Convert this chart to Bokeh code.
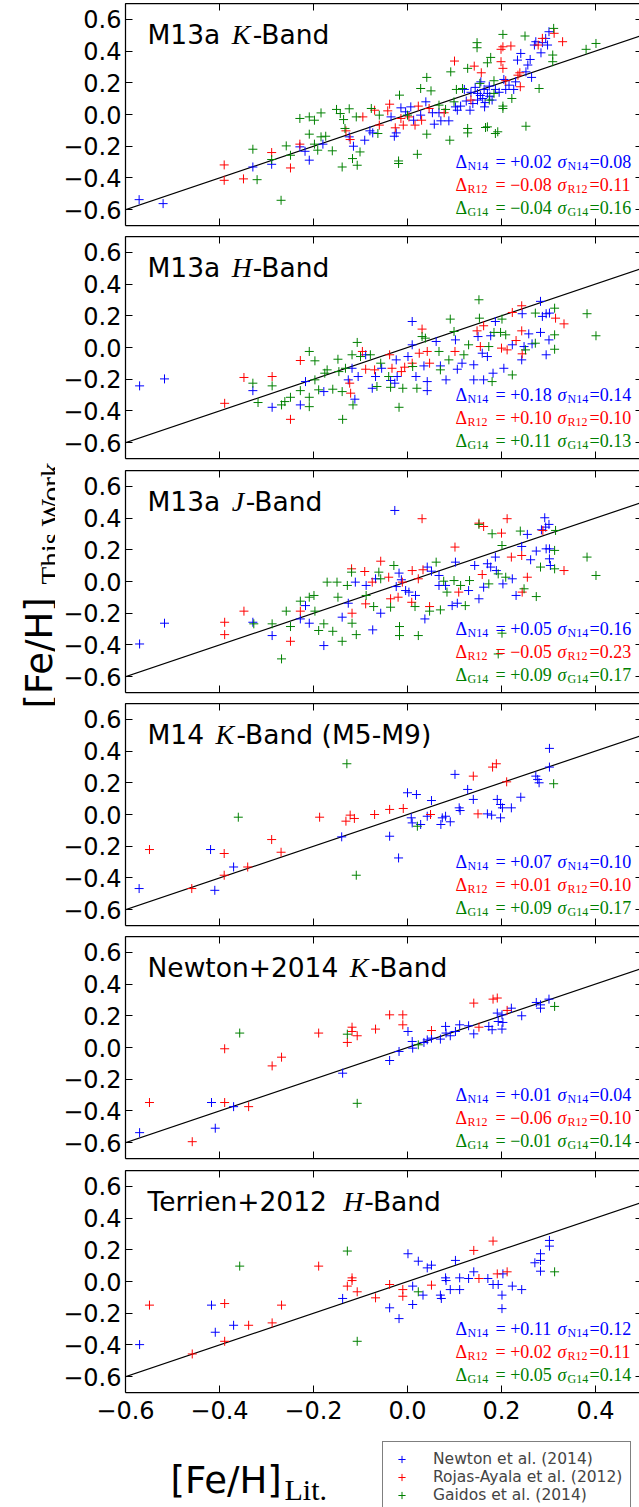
import math
from bokeh.plotting import figure
from bokeh.models import (Range1d, FixedTicker, LinearAxis, Legend, LegendItem, Label,
                          CustomJSTickFormatter)
from bokeh.layouts import row, column
from bokeh.embed import file_html
from bokeh.resources import INLINE
from bokeh.core.properties import value

# ---------------- data ----------------
series_labels = ["Newton et al. (2014)", "Rojas-Ayala et al. (2012)", "Gaidos et al. (2014)"]
series_subs = ["N14", "R12", "G14"]

title_pre = ["M13a ", "M13a ", "M13a ", "M14 ", "Newton+2014 ", "Terrien+2012 "]
title_band = ["K", "H", "J", "K", "K", "H"]
title_post = ["-Band", "-Band", "-Band", "-Band (M5-M9)", "-Band", "-Band"]

stat_delta = [["+0.02", "\u22120.08", "\u22120.04"],
              ["+0.18", "+0.10", "+0.11"],
              ["+0.05", "\u22120.05", "+0.09"],
              ["+0.07", "+0.01", "+0.09"],
              ["+0.01", "\u22120.06", "\u22120.01"],
              ["+0.11", "+0.02", "+0.05"]]
stat_sigma = [["0.08", "0.11", "0.16"],
              ["0.14", "0.10", "0.13"],
              ["0.16", "0.23", "0.17"],
              ["0.10", "0.10", "0.17"],
              ["0.04", "0.10", "0.14"],
              ["0.12", "0.11", "0.14"]]

x_ticks = [-0.6, -0.4, -0.2, 0.0, 0.2, 0.4]
y_ticks = [-0.6, -0.4, -0.2, 0.0, 0.2, 0.4, 0.6]
one_to_one = [-0.7, 0.7]

# Panel 1: M13a K-band
p1_n14 = [(-0.571,-0.537),(-0.520,-0.562),(-0.329,-0.331),(-0.289,-0.314),(-0.229,-0.204),
          (-0.218,-0.232),(-0.209,-0.288),(-0.180,-0.187),(-0.124,-0.141),(-0.115,-0.200),
          (-0.091,-0.162),(-0.080,-0.103),(-0.074,-0.116),(-0.035,-0.015),(-0.028,-0.137),
          (-0.024,-0.116),(-0.014,0.042),(-0.004,0.017),(0.007,0.048),(0.013,-0.036),
          (0.028,-0.004),(0.039,0.080),(0.053,0.011),(0.057,-0.061),(0.067,0.011),
          (0.071,-0.040),(0.088,-0.040),(0.102,0.048),(0.106,0.027),(0.113,0.053),
          (0.121,0.158),(0.133,0.027),(0.144,0.171),(0.149,0.133),(0.149,0.091),
          (0.156,0.206),(0.160,0.101),(0.163,0.158),(0.164,0.048),(0.170,0.133),
          (0.174,0.179),(0.180,0.091),(0.187,0.158),(0.205,0.221),(0.209,0.158),
          (0.216,0.185),(0.226,0.158),(0.230,0.206),(0.234,0.343),(0.241,0.385),
          (0.252,0.269),(0.256,0.312),(0.261,0.347),(0.264,0.234),(0.270,0.438),
          (0.273,0.459),(0.284,0.389),(0.287,0.453),(0.294,0.480),(0.298,0.438),
          (0.301,0.522),(0.139,0.069),(0.135,0.140),(0.155,0.120),(0.175,0.115),
          (0.195,0.140),(0.125,0.085),(0.165,0.075)]
p1_r12 = [(-0.390,-0.318),(-0.390,-0.415),(-0.349,-0.406),(-0.289,-0.240),(-0.249,-0.337),
          (-0.229,-0.187),(-0.131,-0.103),(-0.122,-0.158),(-0.095,-0.015),(-0.070,0.027),
          (-0.060,-0.067),(-0.038,0.065),(-0.042,0.023),(-0.026,-0.084),(-0.014,-0.025),
          (-0.009,-0.067),(0.003,-0.015),(0.016,-0.067),(0.023,0.053),(0.030,-0.036),
          (0.046,0.038),(0.078,0.011),(0.100,0.337),(0.142,0.305),(0.157,0.263),
          (0.199,0.333),(0.203,0.291),(0.199,0.411),(0.203,0.427),(0.209,0.213),
          (0.220,0.432),(0.235,0.248),(0.239,0.263),(0.240,0.175),(0.278,0.438),
          (0.287,0.480),(0.312,0.512),(0.330,0.459),(0.135,0.091)]
p1_g14 = [(-0.329,-0.219),(-0.320,-0.411),(-0.289,-0.284),(-0.269,-0.541),(-0.258,-0.198),
          (-0.249,-0.257),(-0.229,-0.025),(-0.209,-0.015),(-0.198,-0.036),(-0.209,-0.124),
          (-0.198,-0.187),(-0.191,-0.225),(-0.184,0.010),(-0.184,-0.141),(-0.174,-0.137),
          (-0.160,-0.229),(-0.151,0.032),(-0.143,0.006),(-0.136,-0.032),(-0.133,-0.088),
          (-0.124,0.036),(-0.117,-0.278),(-0.139,-0.331),(-0.107,-0.320),(-0.109,-0.015),
          (-0.101,-0.236),(-0.077,0.038),(-0.060,-0.004),(-0.063,-0.120),(-0.019,-0.293),
          (-0.019,-0.309),(-0.017,0.122),(0.000,-0.004),(0.021,-0.251),(0.041,0.234),
          (0.041,-0.124),(0.028,0.164),(0.050,0.149),(0.067,0.059),(0.081,0.032),
          (0.090,-0.162),(0.092,0.269),(0.099,0.080),(0.104,0.158),(0.117,0.164),
          (0.128,-0.088),(0.128,-0.116),(0.128,0.291),(0.148,0.453),(0.148,0.421),
          (0.154,0.196),(0.166,-0.082),(0.170,0.326),(0.177,0.360),(0.184,0.133),
          (0.174,0.091),(0.192,-0.109),(0.184,0.213),(0.203,0.505),(0.203,0.053),
          (0.203,0.038),(0.222,0.101),(0.250,0.495),(0.252,-0.074),(0.280,0.164),
          (0.311,0.543),(0.309,0.375),(0.309,0.333),(0.380,0.411),(0.401,0.448),
          (0.170,-0.078),(0.187,-0.120)]

# Panel 2: M13a H-band
p2_n14 = [(-0.570,-0.242),(-0.517,-0.198),(-0.329,-0.272),(-0.288,-0.377),(-0.228,-0.362),
          (-0.217,-0.215),(-0.178,-0.278),(-0.126,-0.204),(-0.118,-0.131),(-0.112,-0.326),
          (-0.105,-0.183),(-0.089,-0.046),(-0.075,-0.257),(-0.068,-0.183),(-0.055,-0.131),
          (-0.036,-0.208),(-0.027,-0.225),(-0.024,-0.078),(-0.022,-0.183),(0.001,-0.057),
          (0.010,0.164),(0.010,0.017),(0.018,-0.183),(0.035,-0.116),(0.042,-0.215),
          (0.042,-0.272),(0.061,0.038),(0.070,-0.116),(0.082,-0.204),(0.102,0.048),
          (0.106,-0.137),(0.116,-0.099),(0.141,-0.204),(0.141,-0.109),(0.150,0.069),
          (0.159,-0.036),(0.162,-0.204),(0.170,-0.057),(0.177,0.074),(0.182,-0.162),
          (0.187,0.164),(0.205,-0.131),(0.223,0.017),(0.244,0.213),(0.243,-0.078),
          (0.248,0.006),(0.258,0.086),(0.265,0.023),(0.283,0.291),(0.283,0.095),
          (0.287,0.196),(0.295,0.213),(0.302,0.217),(0.295,-0.046),(0.301,0.048)]
p2_r12 = [(-0.348,-0.189),(-0.389,-0.352),(-0.288,-0.183),(-0.249,-0.453),(-0.228,-0.082),
          (-0.123,-0.225),(-0.121,-0.288),(-0.096,-0.025),(-0.089,-0.137),(-0.070,-0.141),
          (-0.038,-0.046),(-0.033,-0.131),(-0.013,-0.152),(-0.006,-0.124),(0.010,-0.099),
          (0.025,-0.036),(0.031,0.116),(0.042,-0.025),(0.047,-0.099),(0.101,-0.025),
          (0.148,0.105),(0.155,0.006),(0.162,0.137),(0.200,-0.004),(0.212,-0.015),
          (0.223,0.221),(0.231,0.044),(0.243,0.263),(0.243,0.105),(0.244,-0.040),
          (0.315,0.185),(0.333,0.149)]
p2_g14 = [(-0.329,-0.225),(-0.318,-0.347),(-0.288,-0.242),(-0.268,-0.362),(-0.261,-0.341),
          (-0.249,-0.314),(-0.228,-0.272),(-0.209,-0.025),(-0.209,-0.314),(-0.209,-0.373),
          (-0.197,-0.084),(-0.197,-0.204),(-0.189,-0.267),(-0.176,-0.162),(-0.171,-0.141),
          (-0.159,-0.263),(-0.148,-0.074),(-0.146,-0.152),(-0.138,-0.453),(-0.139,-0.278),
          (-0.132,-0.131),(-0.118,-0.046),(-0.116,-0.362),(-0.107,0.032),(-0.100,-0.057),
          (-0.079,-0.046),(-0.065,-0.246),(-0.057,-0.099),(-0.040,-0.183),(-0.036,-0.251),
          (-0.018,-0.377),(-0.010,-0.257),(0.011,-0.120),(0.020,-0.257),(0.031,0.069),
          (0.038,0.059),(0.067,-0.025),(0.070,-0.141),(0.091,0.179),(0.099,0.101),
          (0.088,-0.078),(0.120,-0.046),(0.130,0.017),(0.152,0.301),(0.153,0.185),
          (0.173,0.006),(0.180,-0.215),(0.184,0.095),(0.198,0.095),(0.201,0.179),
          (0.209,0.080),(0.223,-0.173),(0.251,-0.015),(0.272,0.217),(0.272,0.027),
          (0.313,0.248),(0.313,0.080),(0.313,-0.011),(0.382,0.213),(0.401,0.074)]

# Panel 3: M13a J-band
p3_n14 = [(-0.570,-0.394),(-0.517,-0.263),(-0.329,-0.257),(-0.288,-0.341),(-0.228,-0.236),
          (-0.217,-0.152),(-0.209,-0.263),(-0.178,-0.404),(-0.139,-0.225),(-0.126,-0.137),
          (-0.111,-0.004),(-0.088,-0.025),(-0.074,-0.305),(-0.068,0.017),(-0.057,-0.200),
          (-0.027,0.448),(-0.024,-0.032),(-0.018,0.053),(-0.013,0.011),(-0.004,-0.057),
          (0.003,-0.067),(0.017,-0.088),(0.037,-0.236),(0.042,0.091),(0.051,0.065),
          (0.067,0.038),(0.067,-0.025),(0.081,-0.025),(0.095,-0.152),(0.102,0.122),
          (0.106,-0.137),(0.130,-0.057),(0.143,0.101),(0.152,-0.109),(0.162,-0.036),
          (0.170,0.112),(0.177,0.091),(0.187,0.154),(0.189,0.069),(0.203,-0.015),
          (0.223,0.017),(0.231,-0.088),(0.243,0.221),(0.255,0.297),(0.262,0.137),
          (0.274,0.192),(0.285,0.326),(0.292,0.402),(0.294,0.343),(0.301,0.360),
          (0.295,0.206),(0.302,0.206),(0.302,0.143),(0.304,0.101)]
p3_r12 = [(-0.389,-0.257),(-0.389,-0.335),(-0.348,-0.187),(-0.249,-0.377),(-0.228,-0.187),
          (-0.119,0.080),(-0.118,-0.200),(-0.091,0.063),(-0.089,-0.141),(-0.075,-0.004),
          (-0.057,0.128),(-0.040,0.027),(-0.036,-0.109),(-0.020,-0.099),(-0.011,-0.004),
          (0.010,0.069),(0.009,-0.131),(0.023,0.017),(0.031,0.396),(0.033,0.074),
          (0.047,-0.158),(0.101,0.217),(0.109,-0.067),(0.152,0.368),(0.159,0.044),
          (0.162,0.347),(0.200,0.305),(0.212,0.396),(0.221,0.154),(0.243,0.164),
          (0.244,-0.067),(0.255,0.027),(0.288,0.322),(0.333,0.069)]
p3_g14 = [(-0.327,-0.267),(-0.288,-0.267),(-0.268,-0.488),(-0.258,-0.187),(-0.249,-0.284),
          (-0.228,-0.124),(-0.209,-0.099),(-0.199,-0.088),(-0.197,-0.187),(-0.189,-0.309),
          (-0.178,-0.267),(-0.171,-0.004),(-0.159,-0.314),(-0.150,-0.004),(-0.148,-0.099),
          (-0.139,-0.377),(-0.128,-0.025),(-0.119,0.059),(-0.118,-0.263),(-0.109,-0.335),
          (-0.088,-0.088),(-0.072,-0.158),(-0.061,0.059),(-0.057,0.017),(-0.036,-0.162),
          (-0.029,0.101),(-0.017,-0.284),(-0.017,-0.341),(0.016,-0.158),(0.023,-0.341),
          (0.047,-0.187),(0.061,0.122),(0.070,-0.179),(0.077,0.002),(0.084,-0.067),
          (0.099,0.006),(0.113,-0.025),(0.123,-0.152),(0.132,0.006),(0.152,0.360),
          (0.173,-0.015),(0.180,0.301),(0.193,0.048),(0.201,0.227),(0.209,0.027),
          (0.240,0.318),(0.248,-0.046),(0.274,-0.095),(0.283,0.091),(0.315,0.322),
          (0.313,0.196),(0.313,0.080),(0.382,0.154),(0.401,0.038),(0.201,-0.326),
          (0.193,-0.457)]

# Panel 4: M14 K-band (M5-M9)
p4_n14 = [(-0.571,-0.467),(-0.419,-0.221),(-0.410,-0.478),(-0.370,-0.331),(-0.140,-0.141),
          (-0.038,-0.137),(-0.019,-0.274),(0.000,0.137),(0.019,0.126),(0.008,-0.021),
          (0.010,-0.053),(0.028,-0.063),(0.042,-0.011),(0.051,0.088),(0.071,-0.063),
          (0.074,-0.021),(0.081,-0.011),(0.091,-0.046),(0.101,0.253),(0.110,0.042),
          (0.112,0.025),(0.128,0.158),(0.140,0.095),(0.170,0.004),(0.179,-0.004),
          (0.191,0.095),(0.198,0.063),(0.198,-0.021),(0.202,0.042),(0.221,0.042),
          (0.241,0.109),(0.273,0.242),(0.277,0.221),(0.280,0.200),(0.302,0.417),
          (0.302,0.299)]
p4_r12 = [(-0.549,-0.221),(-0.459,-0.467),(-0.390,-0.246),(-0.390,-0.383),(-0.340,-0.331),
          (-0.289,-0.158),(-0.269,-0.238),(-0.187,-0.017),(-0.131,-0.042),(-0.122,-0.004),
          (-0.113,-0.025),(-0.070,0.000),(-0.038,0.032),(-0.009,0.038),(0.049,0.000),
          (0.140,0.242),(0.150,0.004),(0.181,0.299),(0.189,0.320),(0.211,0.206)]
p4_g14 = [(-0.360,-0.017),(-0.129,0.320),(-0.109,-0.383),(0.021,-0.074),(0.311,0.194)]

# Panel 5: Newton+2014 K-band
p5_n14 = [(-0.570,-0.537),(-0.417,-0.347),(-0.409,-0.509),(-0.370,-0.373),(-0.138,-0.162),
          (-0.038,-0.082),(-0.018,-0.025),(0.001,0.101),(0.010,0.038),(0.011,-0.004),
          (0.035,0.032),(0.042,0.048),(0.051,0.059),(0.070,0.053),(0.081,0.133),
          (0.082,0.091),(0.091,0.074),(0.102,0.101),(0.111,0.143),(0.130,0.137),
          (0.141,0.086),(0.173,0.133),(0.180,0.112),(0.191,0.217),(0.193,0.164),
          (0.201,0.206),(0.203,0.158),(0.201,0.116),(0.221,0.248),(0.243,0.200),
          (0.274,0.284),(0.283,0.269),(0.283,0.248),(0.301,0.305)]
p5_r12 = [(-0.549,-0.347),(-0.458,-0.594),(-0.389,-0.347),(-0.389,-0.008),(-0.338,-0.373),
          (-0.288,-0.116),(-0.268,-0.061),(-0.189,0.091),(-0.128,0.032),(-0.118,0.128),
          (-0.118,0.101),(-0.107,0.074),(-0.068,0.116),(-0.038,0.206),(-0.010,0.206),
          (-0.010,0.143),(0.051,0.107),(0.141,0.280),(0.152,0.128),(0.182,0.305),
          (0.191,0.312),(0.212,0.234)]
p5_g14 = [(-0.357,0.091),(-0.128,0.084),(-0.107,-0.352),(0.023,0.017),(0.313,0.259)]

# Panel 6: Terrien+2012 H-band
p6_n14 = [(-0.570,-0.398),(-0.417,-0.149),(-0.409,-0.320),(-0.370,-0.276),(-0.138,-0.107),
          (-0.038,-0.166),(-0.018,-0.234),(0.001,0.175),(0.023,0.128),(0.011,-0.029),
          (0.011,-0.145),(0.033,-0.086),(0.042,0.086),(0.051,0.103),(0.070,-0.086),
          (0.072,-0.107),(0.081,0.023),(0.082,0.006),(0.091,-0.051),(0.102,0.133),
          (0.111,0.023),(0.111,-0.051),(0.130,0.019),(0.141,0.061),(0.171,0.019),
          (0.182,-0.019),(0.193,-0.019),(0.201,-0.086),(0.201,-0.171),(0.203,0.048),
          (0.223,-0.029),(0.243,-0.051),(0.271,0.118),(0.283,0.175),(0.283,0.133),
          (0.283,0.065),(0.302,0.259),(0.302,0.223)]
p6_r12 = [(-0.549,-0.149),(-0.458,-0.457),(-0.389,-0.139),(-0.389,-0.377),(-0.338,-0.276),
          (-0.288,-0.261),(-0.268,-0.149),(-0.189,0.097),(-0.128,-0.029),(-0.118,0.023),
          (-0.118,0.006),(-0.107,-0.065),(-0.068,-0.103),(-0.038,-0.019),(-0.010,-0.051),
          (-0.010,-0.093),(0.051,-0.023),(0.141,0.196),(0.152,0.019),(0.182,0.255),
          (0.191,0.048),(0.212,0.061)]
p6_g14 = [(-0.357,0.097),(-0.128,0.192),(-0.107,-0.377),(0.023,-0.065),(0.313,0.061)]

panel_series = [[p1_n14, p1_r12, p1_g14], [p2_n14, p2_r12, p2_g14], [p3_n14, p3_r12, p3_g14],
                [p4_n14, p4_r12, p4_g14], [p5_n14, p5_r12, p5_g14], [p6_n14, p6_r12, p6_g14]]

# ---------------- styling ----------------
COLORS = ["#0000ff", "#ff0000", "#008000"]
SANS = "DejaVu Sans"
SERIF = "Liberation Serif"
TOTAL_H = 1507
YLAB_W = 55
PANEL_W = 584
BORDER_L = 70
FRAME_H = 222
BORDER_T = 3
panel_heights = [233, 234, 233, 233, 234, 269]
FOOT_H = TOTAL_H - sum(panel_heights)
FRAME_X0 = YLAB_W + BORDER_L          # page x of the frames' left edge
X_END = -0.6 + (PANEL_W - BORDER_L) / 470.0

# DejaVu Sans advance widths (em) for title layout
ADV = {"M": .863, "1": .636, "3": .636, "a": .613, " ": .318, "4": .636, "N": .748, "e": .615,
       "w": .818, "t": .392, "o": .612, "n": .634, "+": .838, "2": .636, "0": .636, "T": .611,
       "r": .411, "i": .278}
BAND_ADV = {"K": 21, "H": 21, "J": 14}
TITLE_FS = 26.5

fmt = CustomJSTickFormatter(code="return tick.toFixed(1).replace('-', '\u2212');")
blank_fmt = CustomJSTickFormatter(code="return '';")


def make_axis(ticks, show_labels, tick_in, draw_line):
    ax = LinearAxis(ticker=FixedTicker(ticks=ticks),
                    major_tick_in=tick_in, major_tick_out=0, minor_tick_in=0, minor_tick_out=0,
                    major_tick_line_color="black", major_tick_line_width=1,
                    axis_line_color="black" if draw_line else None, axis_line_width=1.25)
    if show_labels:
        ax.formatter = fmt
        ax.major_label_text_font = SANS
        ax.major_label_text_font_size = "24px"
        ax.major_label_text_color = "black"
    else:
        ax.formatter = blank_fmt
        ax.major_label_text_font_size = "0px"
        ax.major_label_standoff = 0
    return ax


def add_text(p, sx, sy, text, font, size, color="black", style="normal"):
    p.add_layout(Label(x=sx, y=sy, x_units="screen", y_units="screen", text=text,
                       text_font=font, text_font_size=f"{size}px", text_color=color,
                       text_font_style=style, text_baseline="alphabetic", text_align="left"))


panels = []
for i in range(6):
    last = (i == 5)
    h = panel_heights[i]
    p = figure(width=PANEL_W, height=h, x_range=Range1d(-0.6, X_END), y_range=Range1d(-0.7, 0.7),
               output_backend="svg", toolbar_location=None,
               x_axis_location=None, y_axis_location=None,
               min_border_left=BORDER_L, min_border_right=0, min_border_top=BORDER_T,
               min_border_bottom=h - BORDER_T - FRAME_H)
    p.grid.visible = False
    p.outline_line_color = None
    p.background_fill_color = "white"
    p.border_fill_color = "white"

    ax_b = make_axis(x_ticks, last, 7, True)
    if last:
        ax_b.major_label_standoff = 8
    p.add_layout(ax_b, "below")
    p.add_layout(make_axis(x_ticks, False, 7, True), "above")
    ax_l = make_axis(y_ticks, True, 7, True)
    ax_l.major_label_standoff = 4
    p.add_layout(ax_l, "left")
    p.add_layout(make_axis(y_ticks, False, 4, False), "right")

    p.line(one_to_one, one_to_one, line_color="black", line_width=1.2)

    for s, pts in enumerate(panel_series[i]):
        xs = [a for a, b in pts]
        ys = [b for a, b in pts]
        p.scatter(xs, ys, marker="cross", size=9, line_color=COLORS[s], line_width=1)

    # panel title
    x0 = 22
    ybase = FRAME_H - 31
    pre = title_pre[i]
    w_pre = sum(ADV[c] for c in pre) * TITLE_FS
    add_text(p, x0, ybase, pre.rstrip(), SANS, TITLE_FS)
    add_text(p, x0 + w_pre + 3, ybase, title_band[i], SERIF, 28, style="italic")
    add_text(p, x0 + w_pre + 3 + BAND_ADV[title_band[i]], ybase, title_post[i], SANS, TITLE_FS)

    # statistics
    for s in range(3):
        yb = FRAME_H - (158 + 23 * s)
        c = COLORS[s]
        add_text(p, 330, yb, "\u0394", SERIF, 18, c)
        add_text(p, 342, yb - 4, series_subs[s], SERIF, 12, c)
        add_text(p, 370, yb, "= " + stat_delta[i][s], SERIF, 18, c)
        add_text(p, 432, yb, "\u03c3", SERIF, 18, c, style="italic")
        add_text(p, 442, yb - 4, series_subs[s], SERIF, 12, c)
        add_text(p, 464, yb, "=" + stat_sigma[i][s], SERIF, 18, c)
    panels.append(p)

# footer: x-axis label and legend; its frame is aligned with the panels' frames,
# so its x data coordinates are page pixels from FRAME_X0 to the right edge.
foot = figure(width=PANEL_W, height=FOOT_H, x_range=Range1d(FRAME_X0, YLAB_W + PANEL_W),
              y_range=Range1d(FOOT_H, 0),
              output_backend="svg", toolbar_location=None, x_axis_location=None,
              y_axis_location=None, min_border_left=BORDER_L, min_border_right=0,
              min_border_top=0, min_border_bottom=0)
foot.grid.visible = False
foot.outline_line_color = None
foot.text(x=[170], y=[44], text=["[Fe/H]"], text_font=value(SANS), text_font_size="37px",
          text_baseline="alphabetic", text_align="left", text_color="black")
foot.text(x=[284], y=[53], text=["Lit."], text_font=value(SERIF), text_font_size="30px",
          text_baseline="alphabetic", text_align="left", text_color="black")
nan = float("nan")
proxies = [foot.scatter(x=[nan], y=[nan], marker="cross", size=9, line_color=COLORS[s], line_width=1)
           for s in range(3)]
legend = Legend(items=[LegendItem(label=series_labels[s], renderers=[proxies[s]]) for s in range(3)],
                location=(382 - FRAME_X0, -6), margin=0, padding=8, spacing=0,
                glyph_width=21, glyph_height=18, label_height=18, label_standoff=21,
                label_text_font=SANS, label_text_font_size="15.5px",
                border_line_color="black", border_line_width=1,
                background_fill_color="white", background_fill_alpha=1.0)
foot.add_layout(legend, "center")

# y-axis label figure
yl = figure(width=YLAB_W, height=TOTAL_H, x_range=Range1d(0, YLAB_W), y_range=Range1d(TOTAL_H, 0),
            output_backend="svg", toolbar_location=None, x_axis_location=None, y_axis_location=None,
            min_border=0)
yl.grid.visible = False
yl.outline_line_color = None
yl.text(x=[39], y=[708], text=["[Fe/H]"], angle=math.pi / 2, text_font=value(SANS),
        text_font_size="37px", text_baseline="alphabetic", text_align="left", text_color="black")
yl.text(x=[50], y=[584], text=["This Work"], angle=math.pi / 2, text_font=value(SERIF),
        text_font_size="29px", text_baseline="alphabetic", text_align="left", text_color="black")

layout = row(yl, column(*panels, foot, spacing=0), spacing=0)
open("out.html", "w").write(file_html(layout, INLINE))
